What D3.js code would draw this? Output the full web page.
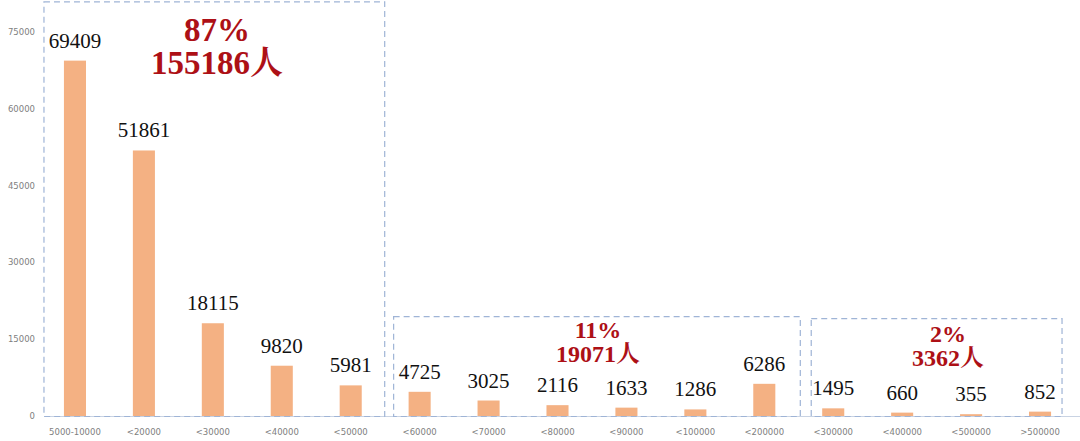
<!DOCTYPE html>
<html><head><meta charset="utf-8">
<script src="https://cdn.jsdelivr.net/npm/d3@7"></script>
<style>body{margin:0;background:#fff}svg{display:block}</style>
</head><body>
<svg id="c" width="1080" height="441"></svg>
<script>
const categories = ["5000-10000","<20000","<30000","<40000","<50000","<60000","<70000","<80000","<90000","<100000","<200000","<300000","<400000","<500000",">500000"];
const values = [69409,51861,18115,9820,5981,4725,3025,2116,1633,1286,6286,1495,660,355,852];
const yTicks = [0,15000,30000,45000,60000,75000];
const groupFrom = ["5000-10000","<60000","<300000"];
const groupTo = ["<50000","<200000",">500000"];
const groupPct = ["87%","11%","2%"];
const groupTotal = ["155186人","19071人","3362人"];
const groupTop = [75000*1.08, 19500, 19100];

const svg = d3.select("#c");
const x = d3.scaleBand().domain(categories).range([40.5,1074.5]).paddingInner(0.68).paddingOuter(0.34);
const y = d3.scaleLinear().domain([0,75000]).range([416,32]);
const cx = c => x(c)+x.bandwidth()/2;

// baseline
svg.append("line").attr("x1",44).attr("x2",1080).attr("y1",416.5).attr("y2",416.5)
  .attr("stroke","#c9d3e3").attr("stroke-width",1);

// y ticks
svg.append("g").selectAll("text").data(yTicks).join("text")
  .attr("x",35).attr("y",d=>y(d)).attr("dy","0.35em").attr("text-anchor","end")
  .attr("font-family","DejaVu Sans, sans-serif").attr("font-size",8.5).attr("fill","#808080")
  .text(d=>d);

// x labels
svg.append("g").selectAll("text").data(categories).join("text")
  .attr("x",d=>cx(d)).attr("y",432).attr("dy","0.35em").attr("text-anchor","middle")
  .attr("font-family","DejaVu Sans, sans-serif").attr("font-size",8.5).attr("fill","#808080")
  .text(d=>d);

// bars
svg.append("g").selectAll("rect").data(values).join("rect")
  .attr("x",(d,i)=>x(categories[i])).attr("width",x.bandwidth())
  .attr("y",d=>y(d)).attr("height",d=>y(0)-y(d)).attr("fill","#f4b183");

// value labels
svg.append("g").selectAll("text").data(values).join("text")
  .attr("x",(d,i)=>cx(categories[i])).attr("y",d=>y(d)-13)
  .attr("text-anchor","middle").attr("font-family","Liberation Serif, serif").attr("font-size",21).attr("fill","#111")
  .text(d=>d);

// group boxes (left/right padding around first/last bar centres, in px)
const padL = [31, 26, 22];
const padR = [34, 36, 22];
groupFrom.forEach((g,i)=>{
  const xa = cx(g) - padL[i];
  const xb = cx(groupTo[i]) + padR[i];
  const yt = Math.max(1, y(groupTop[i]));
  svg.append("rect").attr("x",xa).attr("y",yt+0.5).attr("width",xb-xa).attr("height",y(0)-yt)
    .attr("fill","none").attr("stroke","#9fb4d6").attr("stroke-width",1.2).attr("stroke-dasharray","6,4");
});

// annotations
const annCx = [217, 598, 948];
const annY1 = [41, 338, 342];
const annY2 = [74, 362, 366];
const annFs = [33, 24, 24];
groupPct.forEach((p,i)=>{
  const t = svg.append("g").attr("font-family","Liberation Serif, Noto Serif CJK SC, serif")
    .attr("font-weight","bold").attr("font-size",annFs[i]).attr("fill","#ad1016").attr("text-anchor","middle");
  t.append("text").attr("x",annCx[i]).attr("y",annY1[i]).text(p);
  t.append("text").attr("x",annCx[i]).attr("y",annY2[i]).text(groupTotal[i]);
});
</script>
</body></html>
